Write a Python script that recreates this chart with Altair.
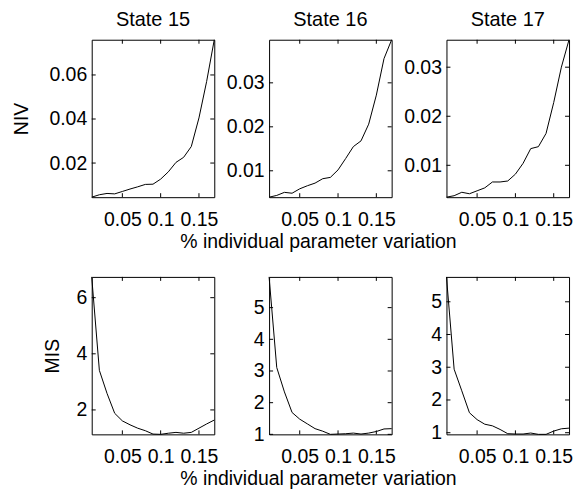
import altair as alt
import pandas as pd

# ---------------- data ----------------
x_vals = [0.01, 0.02, 0.03, 0.04, 0.05, 0.06, 0.07, 0.08, 0.09,
          0.10, 0.11, 0.12, 0.13, 0.14, 0.15, 0.16, 0.17]

niv15 = [0.0045, 0.0056, 0.0062, 0.0060, 0.0071, 0.0082, 0.0092, 0.0103, 0.0104,
         0.0127, 0.0160, 0.0203, 0.0226, 0.0275, 0.0405, 0.0570, 0.0760]
niv16 = [0.0040, 0.0044, 0.0051, 0.0049, 0.0059, 0.0066, 0.0072, 0.0082, 0.0085,
         0.0102, 0.0128, 0.0155, 0.0168, 0.0206, 0.0272, 0.0355, 0.0398]
niv17 = [0.0035, 0.0038, 0.0045, 0.0042, 0.0048, 0.0054, 0.0066, 0.0066, 0.0068,
         0.0082, 0.0104, 0.0134, 0.0138, 0.0165, 0.0228, 0.0300, 0.0356]

mis15 = [6.74, 3.41, 2.59, 1.88, 1.61, 1.47, 1.35, 1.26, 1.14,
         1.13, 1.17, 1.20, 1.17, 1.20, 1.35, 1.50, 1.64]
mis16 = [5.97, 3.11, 2.34, 1.69, 1.48, 1.33, 1.18, 1.10, 1.00,
         1.01, 1.02, 1.04, 1.01, 1.04, 1.09, 1.17, 1.18]
mis17 = [5.76, 2.94, 2.28, 1.61, 1.40, 1.26, 1.21, 1.10, 0.97,
         0.96, 0.96, 0.99, 0.95, 0.95, 1.05, 1.12, 1.14]

states = ["State 15", "State 16", "State 17"]
x_ticks = [0.05, 0.1, 0.15]
niv_ticks = [[0.02, 0.04, 0.06], [0.01, 0.02, 0.03], [0.01, 0.02, 0.03]]
mis_ticks = [[2, 4, 6], [1, 2, 3, 4, 5], [1, 2, 3, 4, 5]]
x_title = "% individual parameter variation"

# ---------------- layout / style ----------------
W, H = 123, 158
FONT = "Liberation Sans"
FS = 19.5
TICK = 4


def panel(values, yticks, title=None, ytitle=None, ytitle_pad=12, show_xtitle=False):
    df = pd.DataFrame({"x": x_vals, "v": values})
    xt = pd.DataFrame({"t": x_ticks})
    yt = pd.DataFrame({"t": yticks})
    xscale = alt.Scale(domain=[min(x_vals), max(x_vals)], nice=False, zero=False)
    yscale = alt.Scale(domain=[min(values), max(values)], nice=False, zero=False)

    xaxis_kw = dict(values=x_ticks, format="~g", labelPadding=13.5,
                    labelFlush=False, labelOverlap=False)
    if show_xtitle:
        xaxis_kw.update(title=x_title, titleX=49, titleY=35, titleBaseline="top")
    else:
        xaxis_kw.update(title=None)
    yaxis_kw = dict(values=yticks, format="~g", labelPadding=5,
                    labelFlush=False, labelOverlap=False)
    if ytitle:
        yaxis_kw.update(title=ytitle, titlePadding=ytitle_pad)
    else:
        yaxis_kw.update(title=None)
    xaxis = alt.Axis(**xaxis_kw)
    yaxis = alt.Axis(**yaxis_kw)

    line = alt.Chart(df).mark_line(color="black", strokeWidth=1).encode(
        x=alt.X("x:Q", scale=xscale, axis=xaxis),
        y=alt.Y("v:Q", scale=yscale, axis=yaxis),
    )
    tb = alt.Chart(xt).mark_rule(color="black", strokeWidth=1).encode(
        x=alt.X("t:Q", axis=xaxis), y=alt.value(H), y2=alt.value(H - TICK))
    tt = alt.Chart(xt).mark_rule(color="black", strokeWidth=1).encode(
        x=alt.X("t:Q", axis=xaxis), y=alt.value(0), y2=alt.value(TICK))
    tl = alt.Chart(yt).mark_rule(color="black", strokeWidth=1).encode(
        y=alt.Y("t:Q", axis=yaxis), x=alt.value(0), x2=alt.value(TICK))
    tr = alt.Chart(yt).mark_rule(color="black", strokeWidth=1).encode(
        y=alt.Y("t:Q", axis=yaxis), x=alt.value(W - TICK), x2=alt.value(W))

    props = dict(width=W, height=H)
    if title:
        props["title"] = alt.TitleParams(title, offset=8)
    return alt.layer(line, tb, tt, tl, tr).properties(**props)


panels = []
for i, (vals, tk) in enumerate(zip([niv15, niv16, niv17], niv_ticks)):
    panels.append(panel(vals, tk, title=states[i],
                        ytitle="NIV" if i == 0 else None, ytitle_pad=17,
                        show_xtitle=(i == 1)))
for i, (vals, tk) in enumerate(zip([mis15, mis16, mis17], mis_ticks)):
    panels.append(panel(vals, tk,
                        ytitle="MIS" if i == 0 else None, ytitle_pad=13,
                        show_xtitle=(i == 1)))

chart = alt.concat(
    *panels, columns=3, spacing={"row": 80, "column": 55}, bounds="flush"
).properties(
    padding={"left": 3, "top": 0, "right": 5, "bottom": 2},
    background="white",
).configure_view(
    stroke="black", strokeWidth=1
).configure_axis(
    domain=False, grid=False, ticks=False,
    labelFont=FONT, labelFontSize=FS, labelColor="black",
    titleFont=FONT, titleFontSize=FS, titleColor="black", titleFontWeight="normal",
).configure_title(
    font=FONT, fontSize=20, fontWeight="normal", color="black"
)

chart.save("out.html", embed_options={"renderer": "svg", "actions": False})
